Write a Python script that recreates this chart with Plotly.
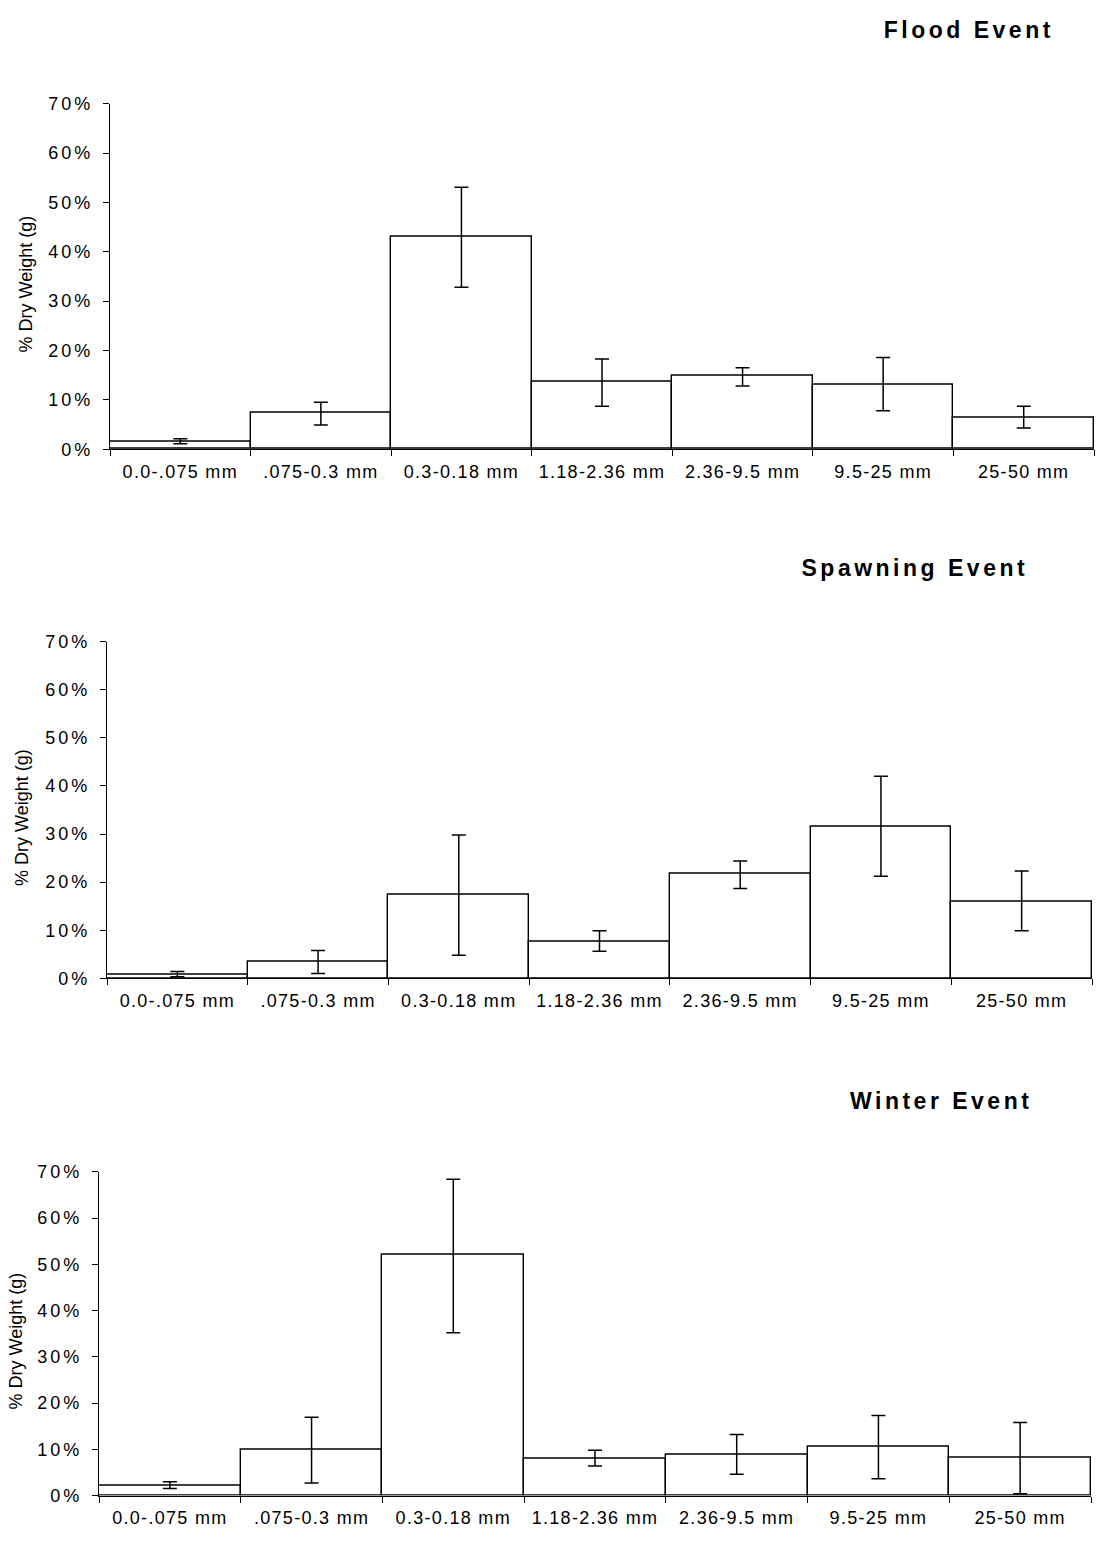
import plotly.graph_objects as go

categories = ["0.0-.075 mm", ".075-0.3 mm", "0.3-0.18 mm", "1.18-2.36 mm",
              "2.36-9.5 mm", "9.5-25 mm", "25-50 mm"]
event_titles = ["Flood Event", "Spawning Event", "Winter Event"]
y_tick_vals = [0, 10, 20, 30, 40, 50, 60, 70]
y_tick_text = ["0%", "10%", "20%", "30%", "40%", "50%", "60%", "70%"]
y_title = "% Dry Weight (g)"

flood_mean = [1.5, 7.3, 43.0, 13.6, 14.8, 13.0, 6.3]
flood_hi = [2.1, 9.5, 53.1, 18.3, 16.5, 18.6, 8.7]
flood_lo = [1.1, 4.9, 32.8, 8.7, 12.8, 7.8, 4.3]

spawn_mean = [0.8, 3.4, 17.3, 7.7, 21.8, 31.6, 16.0]
spawn_hi = [1.4, 5.8, 29.8, 9.9, 24.4, 42.0, 22.3]
spawn_lo = [0.3, 1.0, 4.8, 5.6, 18.7, 21.2, 9.9]

winter_mean = [2.1, 9.8, 52.1, 8.0, 8.9, 10.5, 8.1]
winter_hi = [3.0, 16.9, 68.4, 9.8, 13.2, 17.3, 15.8]
winter_lo = [1.5, 2.7, 35.2, 6.4, 4.6, 3.6, 0.4]

series = [(flood_mean, flood_hi, flood_lo),
          (spawn_mean, spawn_hi, spawn_lo),
          (winter_mean, winter_hi, winter_lo)]

W, H = 1098, 1544
# pixel boxes: left, right, top(70%), bottom(0%)
boxes = [(110, 1094, 95, 445), (107, 1092, 640, 981), (99, 1091, 1177, 1505)]
title_pos = [(969, 20), (915, 565), (941, 1105)]
ytitle_x = [26, 22, 16]

FONT = "Liberation Sans, Arial, sans-serif"
fig = go.Figure()

for i, ((m, hi, lo), (l, r, t, b)) in enumerate(zip(series, boxes)):
    sfx = "" if i == 0 else str(i + 1)
    fig.add_trace(go.Bar(
        x=categories, y=m,
        xaxis="x" + sfx, yaxis="y" + sfx,
        marker=dict(color="white", line=dict(color="black", width=1.4)),
        error_y=dict(type="data", symmetric=False,
                     array=[h - v for h, v in zip(hi, m)],
                     arrayminus=[v - q for v, q in zip(m, lo)],
                     color="black", thickness=1.5, width=7),
        showlegend=False,
    ))
    xd = [l / W, r / W]
    yd = [1 - b / H, 1 - t / H]
    fig.update_layout(**{
        "xaxis" + sfx: dict(domain=xd, anchor="y" + sfx, type="category",
                            range=[-0.5, 6.5], tickson="boundaries",
                            ticks="outside", ticklen=6, tickcolor="black",
                            showline=True, linecolor="black", linewidth=1.4,
                            showgrid=False, ticklabelstandoff=6,
                            tickfont=dict(family=FONT, size=18, color="black")),
        "yaxis" + sfx: dict(domain=yd, anchor="x" + sfx, range=[0, 70],
                            tickvals=y_tick_vals, ticktext=y_tick_text,
                            ticks="outside", ticklen=6, tickcolor="black",
                            showline=True, linecolor="black", linewidth=1.4,
                            showgrid=False, zeroline=False, ticklabelstandoff=6,
                            tickfont=dict(family=FONT, size=18, color="black")),
    })

annotations = []
for (tx, ty), txt in zip(title_pos, event_titles):
    annotations.append(dict(x=tx / W, y=1 - ty / H, xref="paper", yref="paper",
                            text="<b>" + txt + "</b>", showarrow=False,
                            xanchor="center", yanchor="middle",
                            font=dict(family=FONT, size=23, color="black")))
for (l, r, t, b), yx in zip(boxes, ytitle_x):
    annotations.append(dict(x=yx / W, y=1 - ((t + b) / 2 + 8) / H,
                            xref="paper", yref="paper", text=y_title,
                            textangle=-90, showarrow=False,
                            xanchor="center", yanchor="middle",
                            font=dict(family=FONT, size=18, color="black")))

fig.update_layout(width=W, height=H, margin=dict(l=0, r=0, t=0, b=0),
                  paper_bgcolor="white", plot_bgcolor="white",
                  bargap=0, annotations=annotations)

js = ("var s=document.createElement('style');"
      "s.innerHTML='.xaxislayer-above text{letter-spacing:1.3px}"
      ".yaxislayer-above text{letter-spacing:3px}"
      ".annotation[data-index=\"0\"] text,.annotation[data-index=\"1\"] text,"
      ".annotation[data-index=\"2\"] text{letter-spacing:3.5px}';"
      "document.head.appendChild(s);")
fig.write_html("out.html", post_script=js)
